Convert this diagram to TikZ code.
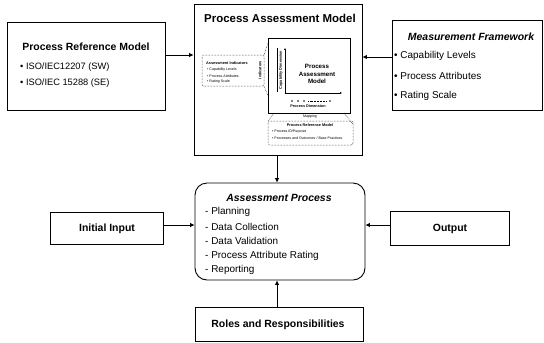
\documentclass[tikz,border=0pt]{standalone}
\usepackage{fontspec}
\setmainfont{Liberation Sans}
\usetikzlibrary{arrows.meta,calc}
\begin{document}
\begin{tikzpicture}[x=1bp,y=-1bp,
  box/.style={draw,line width=0.9pt,inner sep=0pt},
  arr/.style={-{Latex[length=4.5pt,width=4.5pt]},line width=0.7pt},
  ttl/.style={font=\fontsize{10.5}{12}\selectfont\bfseries,inner sep=0pt},
  ttlit/.style={font=\fontsize{10.5}{12}\selectfont\bfseries\itshape,inner sep=0pt},
  txt/.style={font=\fontsize{10}{12}\selectfont,anchor=west,inner sep=0pt},
  smalltxt/.style={font=\fontsize{9.3}{11}\selectfont,anchor=west,inner sep=0pt},
  tiny/.style={font=\fontsize{3.6}{4.3}\selectfont,inner sep=0pt},
  tinyb/.style={font=\fontsize{3.8}{4.5}\selectfont\bfseries,inner sep=0pt},
  dots/.style={draw,densely dotted,line width=0.5pt}]
\useasboundingbox[fill=white] (0,0) rectangle (544,342);

% main boxes
\node[box,minimum width=158bp,minimum height=88bp] (prm) at (86,66) {};
\node[box,minimum width=168bp,minimum height=151bp] (pam) at (278,79.5) {};
\node[box,minimum width=150bp,minimum height=90bp] (mf) at (467,65) {};
\node[box,rounded corners=12bp,minimum width=170bp,minimum height=97bp] (ap) at (280,231.5) {};
\node[box,minimum width=113bp,minimum height=32bp] (init) at (106.5,228) {};
\node[box,minimum width=119bp,minimum height=34bp] (out) at (449.5,228) {};
\node[box,minimum width=168bp,minimum height=34bp] (roles) at (279,324) {};

% Process Reference Model
\node[ttl] (prmt) at (86,47) {Process Reference Model};
\node[smalltxt] (prm1) at (20,67) {• ISO/IEC12207 (SW)};
\node[smalltxt] (prm2) at (20,83) {• ISO/IEC 15288 (SE)};

% Measurement Framework
\node[ttlit] (mft) at (471,37) {Measurement Framework};
\node[txt] (mf1) at (394,56) {• Capability Levels};
\node[txt] (mf2) at (394,76) {• Process Attributes};
\node[txt] (mf3) at (394,96) {• Rating Scale};

% Process Assessment Model
\node[font=\fontsize{11.5}{13}\selectfont\bfseries,inner sep=0pt] (pamt) at (280,18) {Process Assessment Model};
% inner diagram
\draw[line width=0.9pt] (268,38) rectangle (350,113);
\draw[line width=0.5pt,-{Latex[length=2pt,width=2pt]}] (285,93) -- (285,48);
\draw[line width=0.5pt,-{Latex[length=2pt,width=2pt]}] (285,93) -- (342,93);
\draw[line width=0.4pt] (277,48) -- (277,92);
\node[tinyb,rotate=90] (capdim) at (281,70) {Capability Dimension};
\node[font=\fontsize{6.2}{7.8}\selectfont\bfseries,align=center,inner sep=0pt] (pamin) at (317,74) {Process\\Assessment\\Model};
\foreach \xx in {292,298,304,330} \fill (\xx,101) circle (0.9);
\draw[densely dotted,line width=0.5pt] (308,101) -- (326,101);
\node[tinyb] (procdim) at (308,106.5) {Process Dimension};
% left callout
\draw[dots,rounded corners=2bp] (202,55) rectangle (264,86);
\draw[dots] (264,55) -- (268,43);
\draw[dots] (264,86) -- (268,96);
\node[tinyb,anchor=west] (ai) at (206,63) {Assessment Indicators};
\node[tiny,anchor=west] (ai1) at (207,70) {\textbullet\ Capability Levels};
\node[tiny,anchor=west] (ai2) at (207,76) {\textbullet\ Process Attributes};
\node[tiny,anchor=west] (ai3) at (207,82) {\textbullet\ Rating Scale};
\node[tinyb,rotate=90] (ind) at (260,70) {Indicators};
% bottom callout
\draw[dots,rounded corners=2bp] (268,121) rectangle (353,145);
\draw[dots] (274,113) -- (268,121);
\draw[dots] (344,113) -- (353,124);
\node[tiny] (map) at (310,116.5) {Mapping};
\node[tinyb] (prmin) at (310,125.5) {Process Reference Model};
\node[tiny,anchor=west] (pr1) at (272,132) {\textbullet\ Process ID/Purpose};
\node[tiny,anchor=west] (pr2) at (272,138) {\textbullet\ Processes and Outcomes / Base Practices};

% Assessment Process
\node[ttlit] (apt) at (279,198) {Assessment Process};
\node[txt] (ap1) at (205,212) {- Planning};
\node[txt] (ap2) at (205,226.5) {- Data Collection};
\node[txt] (ap3) at (205,241) {- Data Validation};
\node[txt] (ap4) at (205,255.5) {- Process Attribute Rating};
\node[txt] (ap5) at (205,270) {- Reporting};

% other labels
\node[ttl] (initt) at (107,229) {Initial Input};
\node[ttl] (outt) at (450,229) {Output};
\node[ttl] (rolest) at (278,325) {Roles and Responsibilities};

% connectors
\draw[arr] (prm.east |- 0,55) -- (pam.west |- 0,55);
\draw[arr] (mf.west |- 0,57) -- (pam.east |- 0,57);
\draw[arr] (pam.south -| 277,0) -- (ap.north -| 277,0);
\draw[arr] (roles.north -| 277,0) -- (ap.south -| 277,0);
\draw[arr] (init.east |- 0,225) -- (ap.west |- 0,225);
\draw[arr] (out.west |- 0,225) -- (ap.east |- 0,225);
\end{tikzpicture}
\end{document}
